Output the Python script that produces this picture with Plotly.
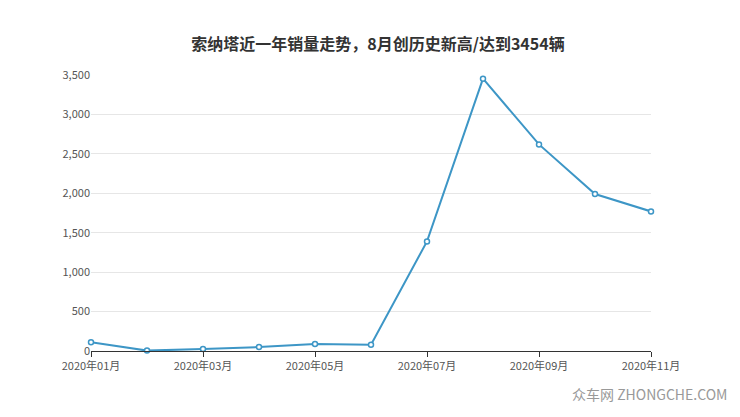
import plotly.graph_objects as go

months = ["2020-01", "2020-02", "2020-03", "2020-04", "2020-05", "2020-06",
          "2020-07", "2020-08", "2020-09", "2020-10", "2020-11"]
sales = [110, 5, 25, 50, 90, 80, 1390, 3454, 2620, 1990, 1770]
tick_vals = ["2020-01", "2020-03", "2020-05", "2020-07", "2020-09", "2020-11"]
tick_text = ["2020年01月", "2020年03月", "2020年05月", "2020年07月", "2020年09月", "2020年11月"]

fig = go.Figure()
fig.add_trace(go.Scatter(
    x=months, y=sales, mode="lines+markers",
    line=dict(color="#3d96c6", width=2),
    marker=dict(size=5, color="white", line=dict(color="#3d96c6", width=1.5)),
    cliponaxis=False,
))

fig.update_layout(
    width=740, height=417,
    margin=dict(l=83, r=97, t=67, b=74),
    paper_bgcolor="white", plot_bgcolor="white",
    showlegend=False,
    font=dict(family="Noto Sans CJK SC, sans-serif", size=11, color="#555"),
    title=dict(text="<b>索纳塔近一年销量走势，8月创历史新高/达到3454辆</b>",
               x=0.5, y=0.925, xanchor="center", font=dict(size=16, color="#333")),
    annotations=[dict(text="众车网 ZHONGCHE.COM", xref="paper", yref="paper",
                      x=1.14, y=-0.2, xanchor="right", showarrow=False,
                      font=dict(size=14, color="#999"))],
)
fig.update_xaxes(
    type="category", tickvals=tick_vals, ticktext=tick_text,
    showgrid=False, showline=True, linecolor="#333", ticks="outside",
    ticklen=5, tickcolor="#333", range=[0, 10], automargin=False,
)
fig.update_yaxes(
    range=[0, 3500], dtick=500, tickformat=",", gridcolor="#e6e6e6",
    zeroline=False, showline=False, automargin=False,
)

fig.write_html("out.html")
